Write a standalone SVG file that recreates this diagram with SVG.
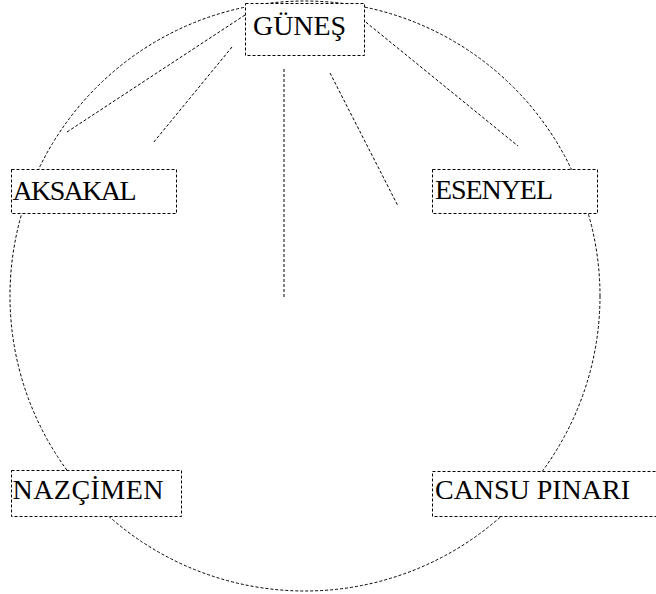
<svg xmlns="http://www.w3.org/2000/svg" width="656" height="594" viewBox="0 0 656 594">
<style>
.dash{fill:none;stroke:#000;stroke-width:1;stroke-dasharray:3,2}
.box{fill:#fff;stroke:#000;stroke-width:1;stroke-dasharray:3,2}
.lbl{font-family:"Liberation Serif","DejaVu Serif",serif;font-size:28px;fill:#000}
</style>
<rect width="656" height="594" fill="#fff"/>
<ellipse id="ring" class="dash" cx="305" cy="296" rx="295" ry="295"/>
<g id="connectors">
<line class="dash" x1="245" y1="15" x2="67" y2="132"/>
<line class="dash" x1="232" y1="47" x2="153" y2="143"/>
<line class="dash" x1="284" y1="69" x2="284" y2="298"/>
<line class="dash" x1="330" y1="73" x2="398" y2="206"/>
<line class="dash" x1="362" y1="19" x2="518" y2="146"/>
</g>
<g id="gunes">
<rect class="box" x="245.5" y="3.5" width="119" height="52"/>
<text class="lbl" x="253" y="35" textLength="93">GÜNEŞ</text>
</g>
<g id="aksakal">
<rect class="box" x="11.5" y="169.5" width="165" height="44"/>
<text class="lbl" x="12.5" y="200" textLength="124">AKSAKAL</text>
</g>
<g id="esenyel">
<rect class="box" x="432.5" y="169.5" width="165" height="44"/>
<text class="lbl" x="435" y="199" textLength="118">ESENYEL</text>
</g>
<g id="nazcimen">
<rect class="box" x="11.5" y="470.5" width="170" height="46"/>
<text class="lbl" x="12.5" y="499" textLength="151">NAZÇİMEN</text>
</g>
<g id="cansu">
<rect class="box" x="432.5" y="471.5" width="230" height="45"/>
<text class="lbl" x="435" y="499" textLength="195">CANSU PINARI</text>
</g>
</svg>
